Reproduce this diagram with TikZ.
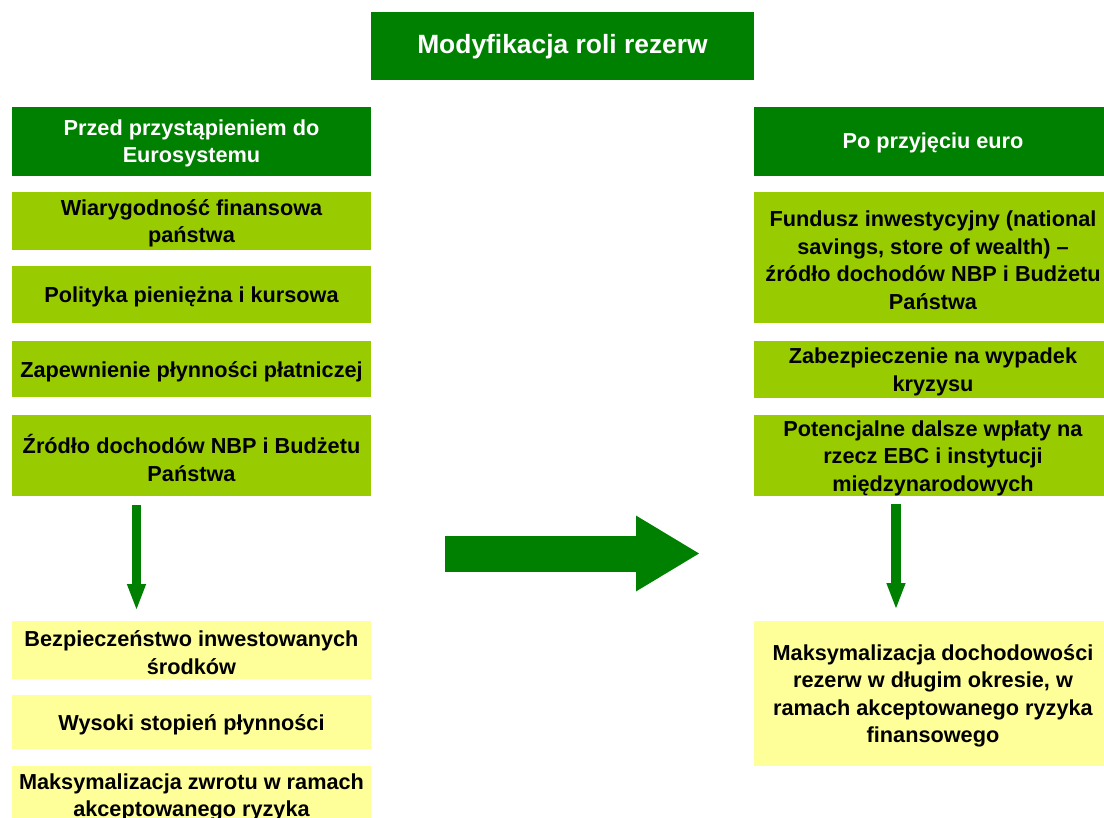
\documentclass[tikz,border=0pt]{standalone}
\usepackage{fontspec}
\setmainfont{Liberation Sans}
\usetikzlibrary{arrows.meta}
\definecolor{dkgreen}{HTML}{008000}
\definecolor{ltgreen}{HTML}{99CC00}
\definecolor{ltyellow}{HTML}{FFFF99}
\tikzset{
  basebox/.style={rectangle, inner sep=0pt, outer sep=0pt, align=center,
    font=\bfseries\fontsize{21.7}{27.5}\selectfont},
  boxtext/.style={basebox, yshift=-2.5pt},
  headbox/.style={basebox, fill=dkgreen, text=white, minimum width=359pt},
  greenbox/.style={basebox, fill=ltgreen, text=black, minimum width=359pt},
  yellowbox/.style={basebox, fill=ltyellow, text=black, minimum width=359pt},
  downarr/.style={draw=dkgreen, line width=9.5pt, -{Triangle[width=17pt,length=27pt]}},
  bigarr/.style={draw=dkgreen, line width=36pt, -{Triangle[width=71pt,length=64pt]}}
}
\begin{document}
\begin{tikzpicture}[x=1pt,y=-1pt]
\useasboundingbox (0,0) rectangle (1104,818);
\clip (0,0) rectangle (1104,818);
\fill[white] (0,0) rectangle (1104,818);

% title
\node[headbox, minimum width=383pt, minimum height=68pt,
  label={[basebox, text=white, yshift=-1pt, font=\bfseries\fontsize{26.4}{30}\selectfont]center:{Modyfikacja roli rezerw}}] (title) at (562.5,46) {};

% left column
\node[headbox, minimum height=69pt,
  label={[boxtext, text=white, yshift=0.5pt]center:{Przed przystąpieniem do\\Eurosystemu}}] (LH) at (191.5,141.5) {};
\node[greenbox, minimum height=58pt,
  label={[boxtext]center:{Wiarygodność finansowa\\państwa}}] (L1) at (191.5,221) {};
\node[greenbox, minimum height=57pt,
  label={[boxtext]center:{Polityka pieniężna i kursowa}}] (L2) at (191.5,294.5) {};
\node[greenbox, minimum height=56pt,
  label={[boxtext]center:{Zapewnienie płynności płatniczej}}] (L3) at (191.5,369) {};
\node[greenbox, minimum height=81pt,
  label={[boxtext]center:{Źródło dochodów NBP i Budżetu\\Państwa}}] (L4) at (191.5,455.5) {};
\node[yellowbox, minimum height=58pt,
  label={[boxtext]center:{Bezpieczeństwo inwestowanych\\środków}}] (Y1) at (191.5,650) {};
\node[yellowbox, minimum height=54pt,
  label={[boxtext]center:{Wysoki stopień płynności}}] (Y2) at (191.5,722) {};
\node[yellowbox, minimum height=58pt,
  label={[boxtext]center:{Maksymalizacja zwrotu w ramach\\akceptowanego ryzyka}}] (Y3) at (191.5,795) {};

% right column
\node[headbox, minimum width=358pt, minimum height=69pt,
  label={[boxtext, text=white, yshift=1pt]center:{Po przyjęciu euro}}] (RH) at (933,141.5) {};
\node[greenbox, minimum width=358pt, minimum height=131pt,
  label={[boxtext]center:{Fundusz inwestycyjny (national\\savings, store of wealth) –\\źródło dochodów NBP i Budżetu\\Państwa}}] (R1) at (933,257.5) {};
\node[greenbox, minimum width=358pt, minimum height=57pt,
  label={[boxtext]center:{Zabezpieczenie na wypadek\\kryzysu}}] (R2) at (933,369.5) {};
\node[greenbox, minimum width=358pt, minimum height=81pt,
  label={[boxtext]center:{Potencjalne dalsze wpłaty na\\rzecz EBC i instytucji\\międzynarodowych}}] (R3) at (933,455.5) {};
\node[yellowbox, minimum width=358pt, minimum height=145pt,
  label={[boxtext]center:{Maksymalizacja dochodowości\\rezerw w długim okresie, w\\ramach akceptowanego ryzyka\\finansowego}}] (RY) at (933,693.5) {};

% arrows
\coordinate (a1s) at (136.5,505);
\coordinate (a1e) at (136.5,611);
\coordinate (a2s) at (896,504);
\coordinate (a2e) at (896,610);
\coordinate (bs) at (445,553.5);
\coordinate (be) at (700,553.5);
\draw[downarr] (a1s) -- (a1e);
\draw[downarr] (a2s) -- (a2e);
\draw[bigarr] (bs) -- (be);
\end{tikzpicture}
\end{document}
